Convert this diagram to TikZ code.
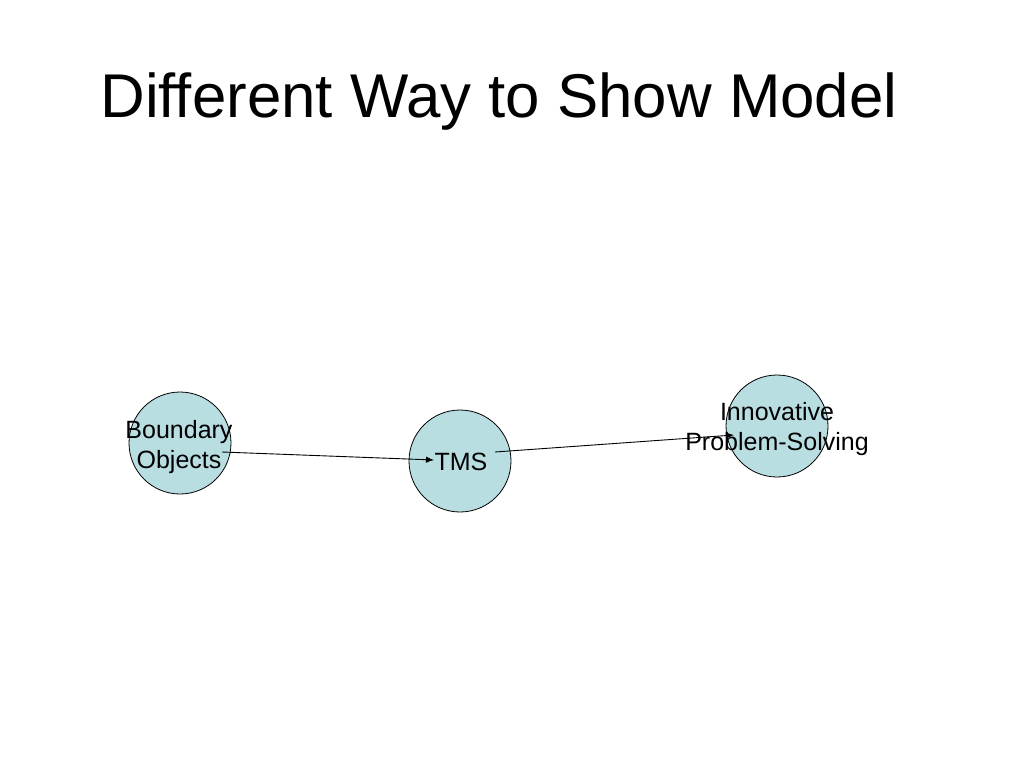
\documentclass[tikz,border=0pt]{standalone}
\usepackage{fontspec}
\setmainfont{Liberation Sans}
\usetikzlibrary{arrows.meta,calc}
\definecolor{nodefill}{RGB}{185,222,226}
\tikzset{
  bubble/.style={circle,draw=black,fill=nodefill,line width=0.8pt,minimum size=102pt,inner sep=0pt},
  lbl/.style={align=center,font=\fontsize{25}{30}\selectfont,inner sep=0pt},
  conn/.style={line width=0.9pt,-{Latex[length=8pt,width=6.5pt]}}
}
\begin{document}
\begin{tikzpicture}[x=1pt,y=-1pt]
\useasboundingbox (0,0) rectangle (1024,768);
\node[font=\fontsize{61.8}{70}\selectfont,anchor=base] (title) at (499,117.5) {Different Way to Show Model};
\node[bubble] (c1) at (180,443) {};
\node[bubble] (c2) at (460,461) {};
\node[bubble] (c3) at (777,426) {};
\node[lbl] (t1) at (179,447) {Boundary\\Objects};
\node[lbl] (t2) at (461,462) {TMS};
\node[lbl] (t3) at (777,429) {Innovative\\Problem-Solving};
\draw[conn] ($(c1)+(42,9)$) -- ($(c2)+(-26,-1)$);
\draw[conn] ($(c2)+(35,-9)$) -- ($(c3)+(-43,9)$);
\end{tikzpicture}
\end{document}
